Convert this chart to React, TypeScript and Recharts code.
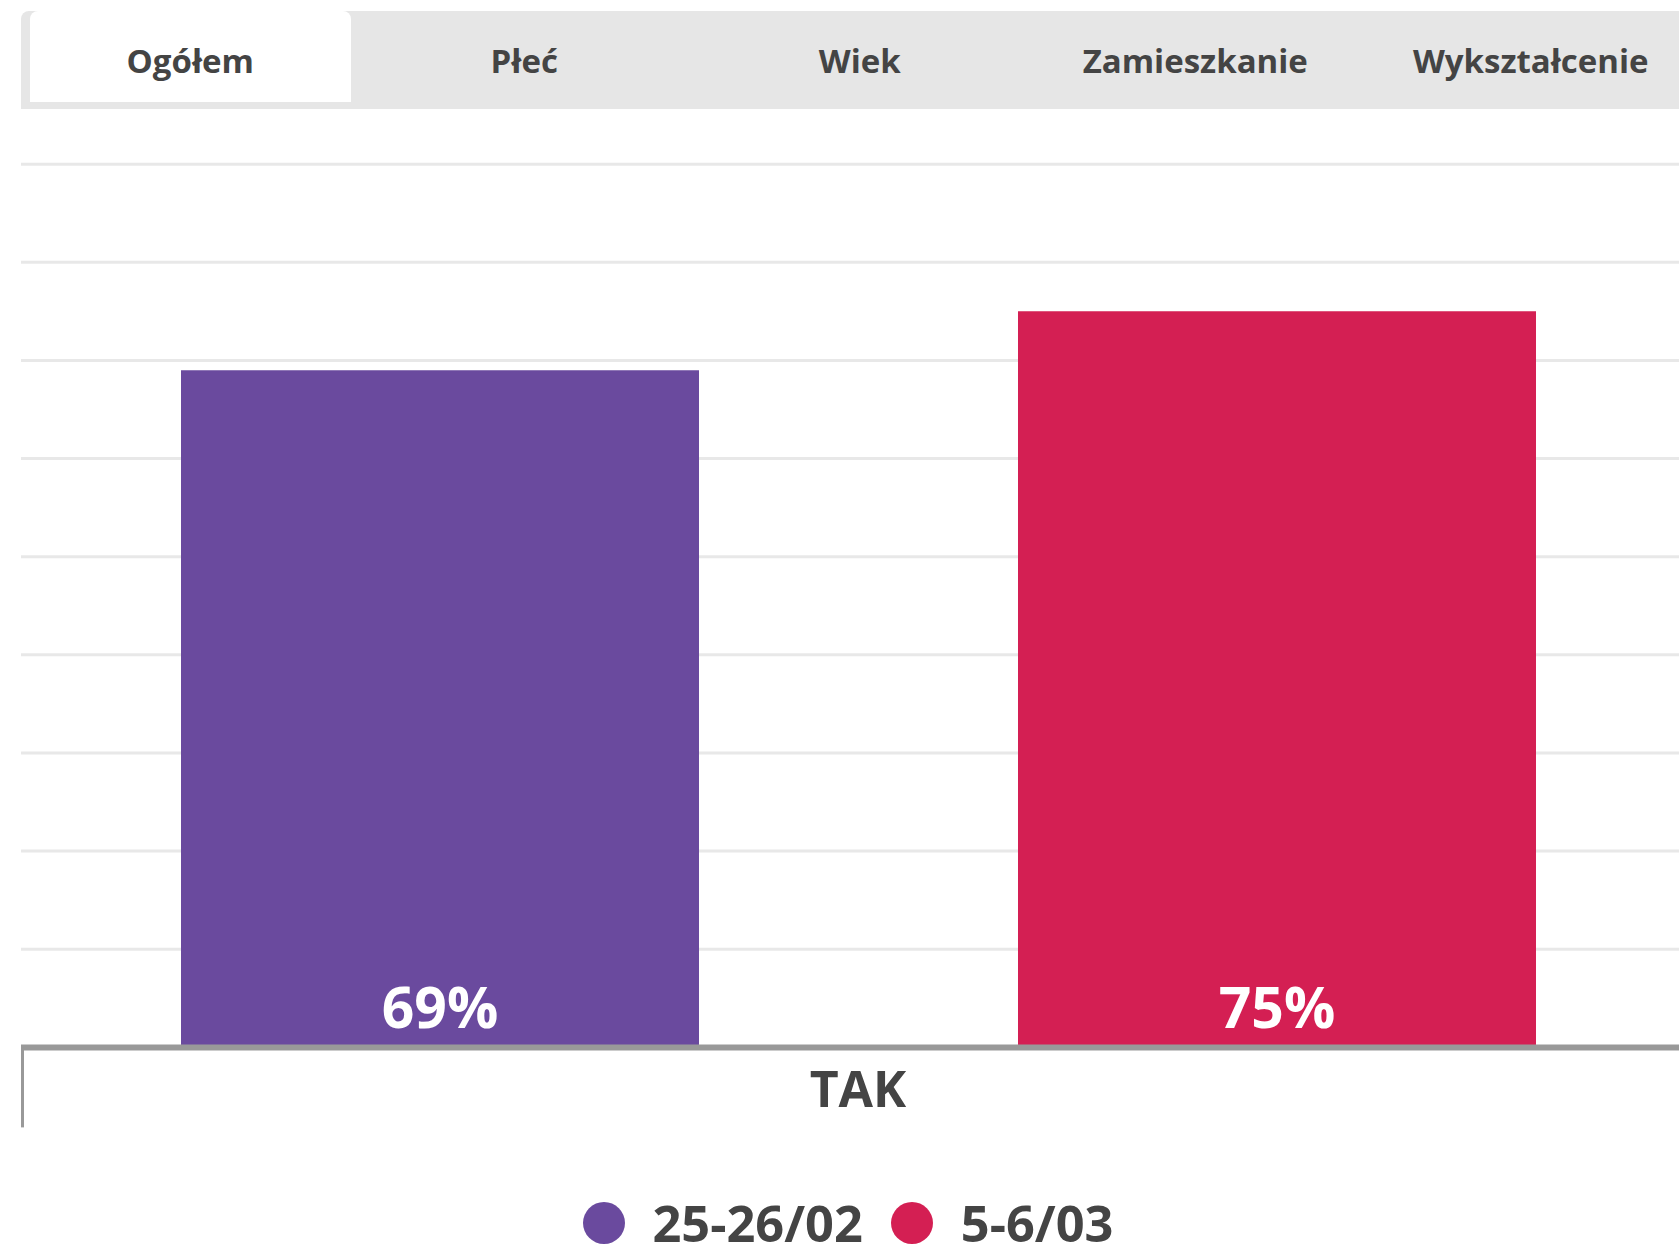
import React from 'react';
import { BarChart, Bar, XAxis, YAxis, CartesianGrid, Legend, LabelList } from 'recharts';

const categories = ['TAK'];
const firstWave = [69];
const secondWave = [75];
const seriesNames = ['25-26/02', '5-6/03'];
const seriesColors = ['#6a4a9e', '#d41f53'];
const yTicks = [0, 10, 20, 30, 40, 50, 60, 70, 80, 90, 100];
const tabs = ['Ogółem', 'Płeć', 'Wiek', 'Zamieszkanie', 'Wykształcenie'];

const data = categories.map((name, i) => ({
  name,
  a: firstWave[i],
  b: secondWave[i],
}));

const FONT = '"Open Sans", sans-serif';

const CategoryTick = (props: any) => {
  const { x, y, payload } = props;
  const left = payload.coordinate - (payload.offset || 0);
  return (
    <g>
      <line x1={left + 1.5} y1={y} x2={left + 1.5} y2={y + 80} stroke="#999" strokeWidth={3} />
      <text
        x={x}
        y={y + 41}
        textAnchor="middle"
        dominantBaseline="central"
        fill="#444"
        fontFamily={FONT}
        fontWeight={700}
        fontSize={50}
      >
        {payload.value}
      </text>
    </g>
  );
};

const ValueLabel = (props: any) => {
  const { x, y, width, height, value } = props;
  return (
    <text
      x={x + width / 2}
      y={y + height - 19}
      textAnchor="middle"
      fill="#fff"
      fontFamily={FONT}
      fontWeight={700}
      fontSize={57}
    >
      {value}%
    </text>
  );
};

const renderLegend = (props: any) => {
  const { payload } = props;
  return (
    <div
      style={{
        display: 'flex',
        justifyContent: 'center',
        alignItems: 'flex-start',
        boxSizing: 'border-box',
        height: 130,
        paddingTop: 64,
        paddingLeft: 8,
        fontFamily: FONT,
        fontWeight: 700,
        fontSize: 50.5,
        color: '#444',
      }}
    >
      {payload.map((entry: any) => (
        <div
          key={entry.value}
          style={{ display: 'flex', alignItems: 'center', marginRight: 28, height: 44 }}
        >
          <span
            style={{
              width: 42,
              height: 42,
              borderRadius: '50%',
              background: entry.color,
              marginRight: 28,
              display: 'inline-block',
            }}
          />
          <span style={{ lineHeight: '44px' }}>{entry.value}</span>
        </div>
      ))}
    </div>
  );
};

export default function App() {
  return (
    <div
      style={{
        position: 'fixed',
        left: 0,
        top: 0,
        width: 1679,
        height: 1247,
        overflow: 'hidden',
        background: '#fff',
      }}
    >
      <div style={{ position: 'absolute', left: 21, top: 65.6 }}>
        <BarChart
          width={1674}
          height={1201.4}
          data={data}
          margin={{ top: 0, right: 0, bottom: 0, left: 0 }}
          barCategoryGap={160}
          barGap={319}
        >
          <CartesianGrid vertical={false} stroke="#e8e8e8" strokeWidth={3} />
          <YAxis hide domain={[0, 100]} ticks={yTicks} />
          <XAxis
            dataKey="name"
            height={90}
            tickLine={false}
            tickSize={0}
            tickMargin={0}
            axisLine={{ stroke: '#999', strokeWidth: 6 }}
            tick={<CategoryTick />}
          />
          <Legend verticalAlign="bottom" height={130} content={renderLegend} />
          <Bar dataKey="a" name={seriesNames[0]} fill={seriesColors[0]} barSize={518} isAnimationActive={false}>
            <LabelList dataKey="a" content={<ValueLabel />} />
          </Bar>
          <Bar dataKey="b" name={seriesNames[1]} fill={seriesColors[1]} barSize={518} isAnimationActive={false}>
            <LabelList dataKey="b" content={<ValueLabel />} />
          </Bar>
        </BarChart>
      </div>

      <div
        style={{
          position: 'absolute',
          left: 21,
          top: 11,
          width: 1700,
          height: 98,
          background: '#e6e6e6',
          borderTopLeftRadius: 8,
          display: 'flex',
          zIndex: 2,
        }}
      >
        {tabs.map((t, i) => (
          <div
            key={t}
            style={{
              width: 335.5,
              flex: 'none',
              boxSizing: 'border-box',
              padding: i === 0 ? '7px 6px 0 9px' : 0,
            }}
          >
            <div
              style={{
                height: '100%',
                background: i === 0 ? '#fff' : 'transparent',
                borderTopLeftRadius: 8,
                borderTopRightRadius: 8,
                display: 'flex',
                alignItems: 'center',
                justifyContent: 'center',
                fontFamily: FONT,
                fontWeight: 700,
                fontSize: 33,
                color: '#444',
                marginTop: i === 0 ? -7 : 0,
                boxSizing: 'border-box',
              }}
            >
              <span style={{ marginTop: i === 0 ? 7 : 0 }}>{t}</span>
            </div>
          </div>
        ))}
      </div>
    </div>
  );
}
